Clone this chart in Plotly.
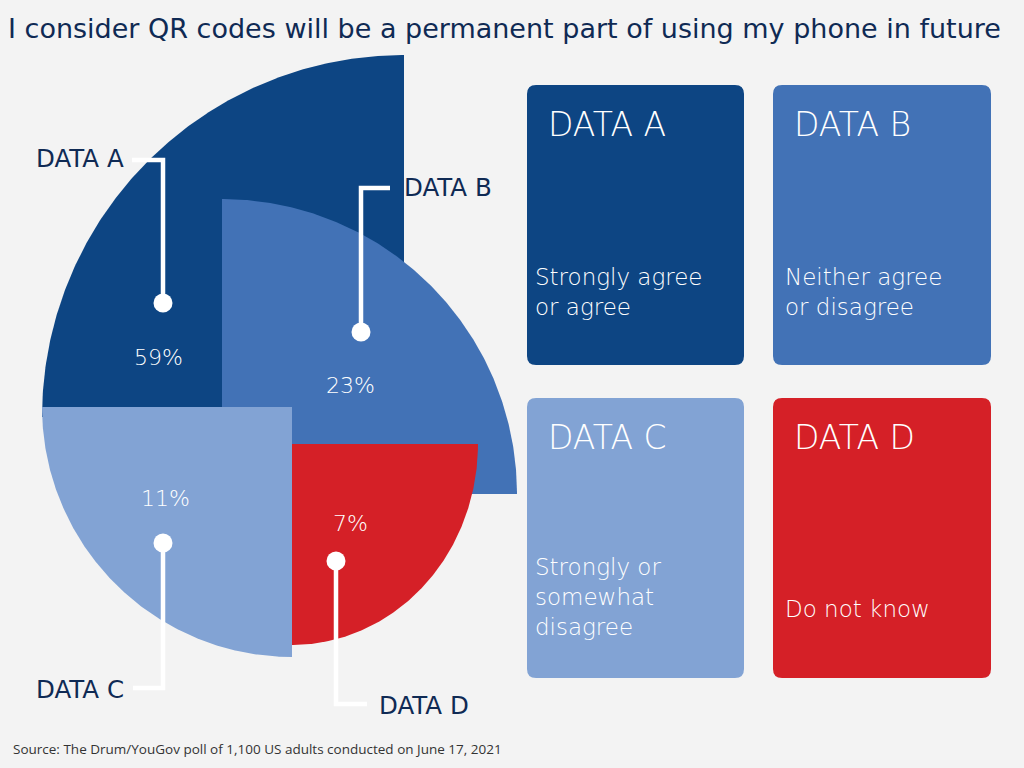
import numpy as np
import plotly.graph_objects as go

# ---- data ----
labels = ["DATA A", "DATA B", "DATA C", "DATA D"]
values = [59, 23, 11, 7]
descriptions = ["Strongly agree<br>or agree", "Neither agree<br>or disagree",
                "Strongly or<br>somewhat<br>disagree", "Do not know"]
title_text = "I consider QR codes will be a permanent part of using my phone in future"
source_text = "Source: The Drum/YouGov poll of 1,100 US adults conducted on June 17, 2021"

# ---- styles / layout geometry (pixel space) ----
colors = ["#0D4583", "#4272B6", "#82A3D4", "#D52027"]
centers = [(404, 417), (222, 494), (292, 407), (292, 444)]
radii = [(362, 362), (295, 295), (250, 250), (186, 201)]
angle_spans = [(90, 180), (0, 90), (180, 270), (270, 360)]
pct_pos = [(158, 357), (350, 385), (165, 498), (350, 523)]
callouts = [
    dict(pts=[(163, 303), (163, 160), (132, 160)], lab=(126, 158), anchor="right"),
    dict(pts=[(361, 332), (361, 188), (390, 188)], lab=(402, 187), anchor="left"),
    dict(pts=[(163, 543), (163, 688), (133, 688)], lab=(126, 689), anchor="right"),
    dict(pts=[(336, 561), (336, 704), (367, 704)], lab=(377, 705), anchor="left"),
]
boxes = [(527, 85, 744, 365), (773, 85, 991, 365), (527, 398, 744, 678), (773, 398, 991, 678)]
box_title_pos = [(546, 124), (792, 124), (546, 437), (792, 437)]
box_desc_pos = [(533, 292), (783, 292), (533, 597), (783, 609)]

NAVY = "#0F2A54"
FONT = "DejaVu Sans"

fig = go.Figure()

# sectors
for lab, c, (cx, cy), (rx, ry), (a0, a1) in zip(labels, colors, centers, radii, angle_spans):
    th = np.radians(np.linspace(a0, a1, 240))
    xs = np.concatenate([[cx], cx + rx * np.cos(th), [cx]])
    ys = np.concatenate([[cy], cy - ry * np.sin(th), [cy]])
    fig.add_trace(go.Scatter(x=xs, y=ys, fill="toself", fillcolor=c, mode="lines",
                             line=dict(width=0, color=c), name=lab, hoverinfo="skip",
                             showlegend=False))

# callout lines and dots
for co in callouts:
    xs = [p[0] for p in co["pts"]]
    ys = [p[1] for p in co["pts"]]
    fig.add_trace(go.Scatter(x=xs, y=ys, mode="lines", line=dict(color="white", width=4.5),
                             showlegend=False, hoverinfo="skip"))
    fig.add_trace(go.Scatter(x=[xs[0]], y=[ys[0]], mode="markers",
                             marker=dict(color="white", size=19, line=dict(width=0)),
                             showlegend=False, hoverinfo="skip"))

annotations = []
for v, (px, py) in zip(values, pct_pos):
    annotations.append(dict(x=px, y=py, text=f"{v}%", showarrow=False, xref="x", yref="y",
                            font=dict(family=FONT, size=22, color="white", weight=300),
                            xanchor="center", yanchor="middle"))
for lab, co in zip(labels, callouts):
    annotations.append(dict(x=co["lab"][0], y=co["lab"][1], text=lab, showarrow=False,
                            xref="x", yref="y", xanchor=co["anchor"], yanchor="middle",
                            font=dict(family=FONT, size=24.5, color=NAVY, weight=400)))

shapes = []
rad = 9
for (x0, y0, x1, y1), c in zip(boxes, colors):
    path = (f"M {x0+rad},{y0} L {x1-rad},{y0} Q {x1},{y0} {x1},{y0+rad} "
            f"L {x1},{y1-rad} Q {x1},{y1} {x1-rad},{y1} L {x0+rad},{y1} "
            f"Q {x0},{y1} {x0},{y1-rad} L {x0},{y0+rad} Q {x0},{y0} {x0+rad},{y0} Z")
    shapes.append(dict(type="path", path=path, xref="x", yref="y", fillcolor=c,
                       line=dict(width=0), layer="below"))

for lab, (tx, ty) in zip(labels, box_title_pos):
    annotations.append(dict(x=tx, y=ty, text=lab, showarrow=False, xref="x", yref="y",
                            xanchor="left", yanchor="middle",
                            font=dict(family=FONT, size=33, color="white", weight=300)))
for d, (tx, ty) in zip(descriptions, box_desc_pos):
    annotations.append(dict(x=tx, y=ty, text=d, showarrow=False, xref="x", yref="y",
                            xanchor="left", yanchor="middle", align="left",
                            font=dict(family=FONT, size=23, color="white", weight=300)))

annotations.append(dict(x=6, y=28, text=title_text, showarrow=False, xref="x", yref="y",
                        xanchor="left", yanchor="middle",
                        font=dict(family=FONT, size=27, color=NAVY, weight=400)))
annotations.append(dict(x=11, y=749, text=source_text, showarrow=False, xref="x", yref="y",
                        xanchor="left", yanchor="middle",
                        font=dict(family="Open Sans", size=13.5, color="#333333")))

fig.update_layout(
    width=1024, height=768,
    margin=dict(l=0, r=0, t=0, b=0),
    paper_bgcolor="#F3F3F3", plot_bgcolor="#F3F3F3",
    xaxis=dict(range=[0, 1024], visible=False, fixedrange=True),
    yaxis=dict(range=[768, 0], visible=False, fixedrange=True),
    shapes=shapes, annotations=annotations,
)

fig.write_html("out.html", config={"displayModeBar": False},
               post_script="document.body.style.margin='0';document.body.style.padding='0';")
